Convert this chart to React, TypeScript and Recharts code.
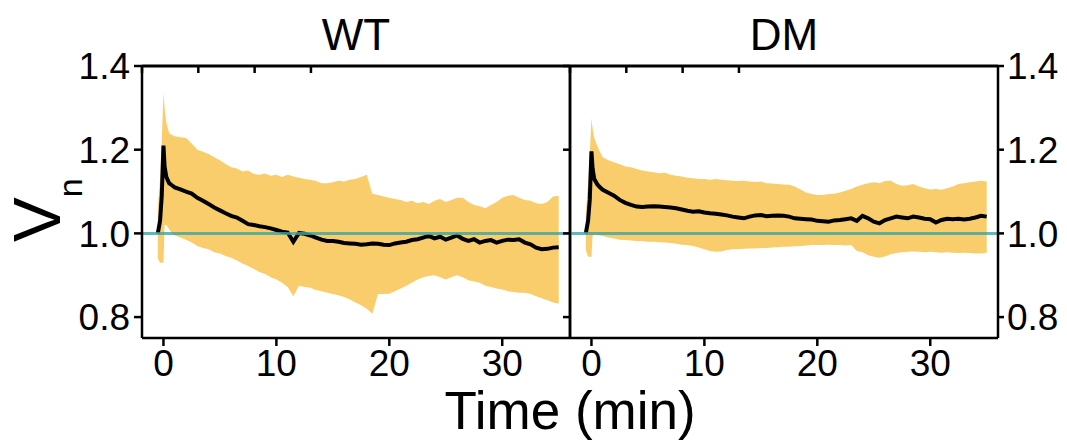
import React from 'react';
import { ComposedChart, Area, Line, XAxis, YAxis, ReferenceLine } from 'recharts';

const TIME = [-0.5, -0.3, -0.15, 0, 0.1, 0.25, 0.5, 0.75, 1, 1.5, 2, 2.5, 3, 3.5, 4, 4.5, 5, 5.5, 6, 6.5, 7, 7.5, 8, 8.5, 9, 9.5, 10, 10.5, 11, 11.5, 12, 12.5, 13, 13.5, 14, 14.5, 15, 15.5, 16, 16.5, 17, 17.5, 18, 18.5, 19, 19.5, 20, 20.5, 21, 21.5, 22, 22.5, 23, 23.5, 24, 24.5, 25, 25.5, 26, 26.5, 27, 27.5, 28, 28.5, 29, 29.5, 30, 30.5, 31, 31.5, 32, 32.5, 33, 33.5, 34, 34.5, 35];

const WT_MEAN = [1.0, 1.03, 1.09, 1.21, 1.16, 1.135, 1.12, 1.115, 1.11, 1.105, 1.1, 1.095, 1.085, 1.078, 1.07, 1.062, 1.055, 1.048, 1.042, 1.038, 1.03, 1.022, 1.02, 1.017, 1.015, 1.012, 1.008, 1.004, 1.002, 0.98, 1.001, 0.999, 0.995, 0.99, 0.985, 0.982, 0.982, 0.98, 0.977, 0.976, 0.975, 0.973, 0.974, 0.976, 0.975, 0.973, 0.972, 0.976, 0.978, 0.98, 0.984, 0.986, 0.99, 0.994, 0.988, 0.992, 0.985, 0.99, 0.995, 0.987, 0.982, 0.986, 0.978, 0.982, 0.984, 0.978, 0.982, 0.985, 0.984, 0.986, 0.978, 0.974, 0.966, 0.962, 0.963, 0.966, 0.967];
const WT_HIGH = [1.06, 1.13, 1.22, 1.335, 1.3, 1.265, 1.24, 1.235, 1.232, 1.23, 1.228, 1.215, 1.2, 1.195, 1.19, 1.182, 1.175, 1.166, 1.158, 1.155, 1.148, 1.15, 1.142, 1.14, 1.143, 1.138, 1.14, 1.135, 1.14, 1.136, 1.133, 1.13, 1.128, 1.125, 1.12, 1.12, 1.122, 1.126, 1.124, 1.128, 1.13, 1.135, 1.14, 1.095, 1.092, 1.088, 1.085, 1.082, 1.08, 1.075, 1.078, 1.072, 1.075, 1.07, 1.078, 1.082, 1.075, 1.08, 1.085, 1.085, 1.075, 1.068, 1.065, 1.06, 1.068, 1.075, 1.085, 1.09, 1.092, 1.085, 1.08, 1.078, 1.072, 1.07, 1.075, 1.088, 1.09];
const WT_LOW = [0.94, 0.93, 0.93, 0.93, 1.02, 1.02, 1.01, 1.0, 0.995, 0.99, 0.985, 0.978, 0.97, 0.965, 0.962, 0.955, 0.952, 0.946, 0.942, 0.935, 0.928, 0.922, 0.915, 0.908, 0.903, 0.895, 0.89, 0.882, 0.872, 0.85, 0.875, 0.872, 0.87, 0.865, 0.862, 0.858, 0.855, 0.852, 0.848, 0.842, 0.835, 0.828, 0.82, 0.808, 0.855, 0.855, 0.856, 0.862, 0.868, 0.875, 0.882, 0.89, 0.895, 0.898, 0.9, 0.895, 0.89, 0.895, 0.9, 0.895, 0.888, 0.885, 0.882, 0.875, 0.872, 0.868, 0.866, 0.862, 0.86, 0.858, 0.858, 0.855, 0.85, 0.845, 0.84, 0.835, 0.832];

const DM_MEAN = [1.0, 1.03, 1.08, 1.196, 1.155, 1.13, 1.118, 1.11, 1.104, 1.097, 1.09, 1.08, 1.073, 1.068, 1.064, 1.063, 1.064, 1.065, 1.064, 1.063, 1.062, 1.06, 1.057, 1.054, 1.052, 1.053, 1.05, 1.048, 1.047, 1.045, 1.043, 1.04, 1.038, 1.036, 1.04, 1.043, 1.044, 1.041, 1.042, 1.043, 1.042, 1.04, 1.036, 1.035, 1.034, 1.033, 1.03, 1.029, 1.028, 1.031, 1.032, 1.034, 1.036, 1.03, 1.042, 1.036, 1.028, 1.024, 1.032, 1.036, 1.04, 1.038, 1.036, 1.04, 1.038, 1.035, 1.034, 1.026, 1.032, 1.035, 1.034, 1.035, 1.033, 1.035, 1.038, 1.042, 1.04];
const DM_HIGH = [1.05, 1.12, 1.19, 1.275, 1.25, 1.228, 1.21, 1.195, 1.182, 1.175, 1.17, 1.165, 1.16, 1.158, 1.154, 1.15, 1.148, 1.146, 1.144, 1.145, 1.14, 1.138, 1.136, 1.133, 1.132, 1.13, 1.13, 1.128, 1.13, 1.128, 1.127, 1.126, 1.125, 1.126, 1.124, 1.123, 1.124, 1.12, 1.119, 1.118, 1.117, 1.116, 1.112, 1.105, 1.098, 1.094, 1.092, 1.092, 1.094, 1.095, 1.098, 1.102, 1.106, 1.112, 1.116, 1.12, 1.122, 1.12, 1.125, 1.126, 1.118, 1.114, 1.115, 1.118, 1.112, 1.108, 1.105, 1.106, 1.104, 1.108, 1.112, 1.118, 1.12, 1.122, 1.124, 1.126, 1.124];
const DM_LOW = [0.96, 0.945, 0.944, 0.944, 0.995, 0.998, 0.996, 0.995, 0.994, 0.99, 0.988, 0.985, 0.984, 0.983, 0.982, 0.981, 0.98, 0.98, 0.979, 0.978, 0.977, 0.975, 0.973, 0.972, 0.97, 0.966, 0.962, 0.958, 0.956, 0.957, 0.96, 0.962, 0.962, 0.963, 0.964, 0.964, 0.965, 0.965, 0.966, 0.967, 0.968, 0.968, 0.969, 0.97, 0.971, 0.972, 0.972, 0.972, 0.973, 0.972, 0.972, 0.971, 0.972, 0.958, 0.955, 0.948, 0.944, 0.942, 0.945, 0.95, 0.953, 0.955, 0.956, 0.957, 0.956, 0.955, 0.956, 0.955, 0.954, 0.955, 0.954, 0.953, 0.954, 0.953, 0.952, 0.952, 0.953];

const X_TICKS = [0, 10, 20, 30];
const Y_TICKS = [0.8, 1.0, 1.2, 1.4];
const X_DOMAIN: [number, number] = [-1.9, 36];
const Y_DOMAIN: [number, number] = [0.75, 1.4];
const TITLES = ['WT', 'DM'];
const X_LABEL = 'Time (min)';

const build = (mean: number[], lo: number[], hi: number[]) =>
  TIME.map((t, i) => ({ t, mean: mean[i], band: [lo[i], hi[i]] }));

const WT_DATA = build(WT_MEAN, WT_LOW, WT_HIGH);
const DM_DATA = build(DM_MEAN, DM_LOW, DM_HIGH);

const W = 1067;
const H = 445;
const FONT = 'Liberation Sans, Arial, sans-serif';
const AX = { stroke: '#000', strokeWidth: 2.5 };
const AX_TOP = { stroke: '#000', strokeWidth: 3 };
const TICK_STYLE = { fontSize: 37, fill: '#000', fontFamily: FONT };
const BAND = '#F9CD6B';
const TEAL = '#3aa6a6';
const fmt = (v: number) => v.toFixed(1);
const noLabel = () => <g />;

function Panel({ data, side }: { data: any[]; side: 'left' | 'right' }) {
  const isLeft = side === 'left';
  const margin = isLeft
    ? { top: 66, left: 82, right: 496, bottom: 67 }
    : { top: 66, left: 569, right: 9, bottom: 67 };
  return (
    <div style={{ position: 'absolute', left: 0, top: 0 }}>
      <ComposedChart width={W} height={H} data={data} margin={margin}>
        <XAxis
          dataKey="t"
          type="number"
          domain={X_DOMAIN}
          ticks={X_TICKS}
          allowDataOverflow
          height={40}
          tickSize={8}
          tickMargin={4}
          axisLine={AX}
          tickLine={AX}
          tick={TICK_STYLE}
          interval={0}
        />
        <XAxis
          xAxisId="top"
          orientation="top"
          type="number"
          domain={X_DOMAIN}
          ticks={X_TICKS}
          allowDataOverflow
          mirror
          height={1}
          tickSize={7}
          axisLine={AX_TOP}
          tickLine={AX}
          tick={noLabel}
          interval={0}
        />
        {isLeft ? (
          <YAxis
            type="number"
            domain={Y_DOMAIN}
            ticks={Y_TICKS}
            allowDataOverflow
            width={60}
            tickSize={8}
            tickMargin={4}
            axisLine={AX}
            tickLine={AX}
            tick={TICK_STYLE}
            tickFormatter={fmt}
            interval={0}
          />
        ) : (
          <YAxis
            type="number"
            orientation="right"
            domain={Y_DOMAIN}
            ticks={Y_TICKS}
            allowDataOverflow
            width={60}
            tickSize={6}
            tickMargin={3}
            axisLine={AX}
            tickLine={AX}
            tick={TICK_STYLE}
            tickFormatter={fmt}
            interval={0}
          />
        )}
        {isLeft ? (
          <YAxis
            yAxisId="frame"
            orientation="right"
            type="number"
            domain={Y_DOMAIN}
            allowDataOverflow
            width={1}
            axisLine={AX}
            tickLine={false}
            tick={false}
          />
        ) : (
          <YAxis
            yAxisId="frame"
            orientation="left"
            type="number"
            domain={Y_DOMAIN}
            ticks={Y_TICKS}
            allowDataOverflow
            width={1}
            tickSize={7}
            axisLine={AX}
            tickLine={AX}
            tick={noLabel}
            interval={0}
          />
        )}
        <Area
          dataKey="band"
          type="linear"
          stroke="none"
          fill={BAND}
          fillOpacity={1}
          isAnimationActive={false}
        />
        <Line
          dataKey="mean"
          type="linear"
          stroke="#000"
          strokeWidth={4}
          dot={false}
          isAnimationActive={false}
        />
        <ReferenceLine y={1} stroke={TEAL} strokeWidth={3} strokeOpacity={0.8} />
      </ComposedChart>
    </div>
  );
}

export default function App() {
  return (
    <div style={{ position: 'absolute', left: 0, top: 0, width: W, height: H, background: '#fff', overflow: 'hidden' }}>
      <Panel data={WT_DATA} side="left" />
      <Panel data={DM_DATA} side="right" />
      <svg width={W} height={H} style={{ position: 'absolute', left: 0, top: 0, pointerEvents: 'none' }}>
        <text x={356} y={50} textAnchor="middle" fontSize={44} fontFamily={FONT} fill="#000">{TITLES[0]}</text>
        <text x={784} y={50} textAnchor="middle" fontSize={44} fontFamily={FONT} fill="#000">{TITLES[1]}</text>
        <text x={570} y={429} textAnchor="middle" fontSize={53} fontFamily={FONT} fill="#000">{X_LABEL}</text>
        <text transform="translate(60,242) rotate(-90)" fontSize={67} fontFamily={FONT} fill="#000">
          V<tspan dy={22} fontSize={34}>n</tspan>
        </text>
      </svg>
    </div>
  );
}
